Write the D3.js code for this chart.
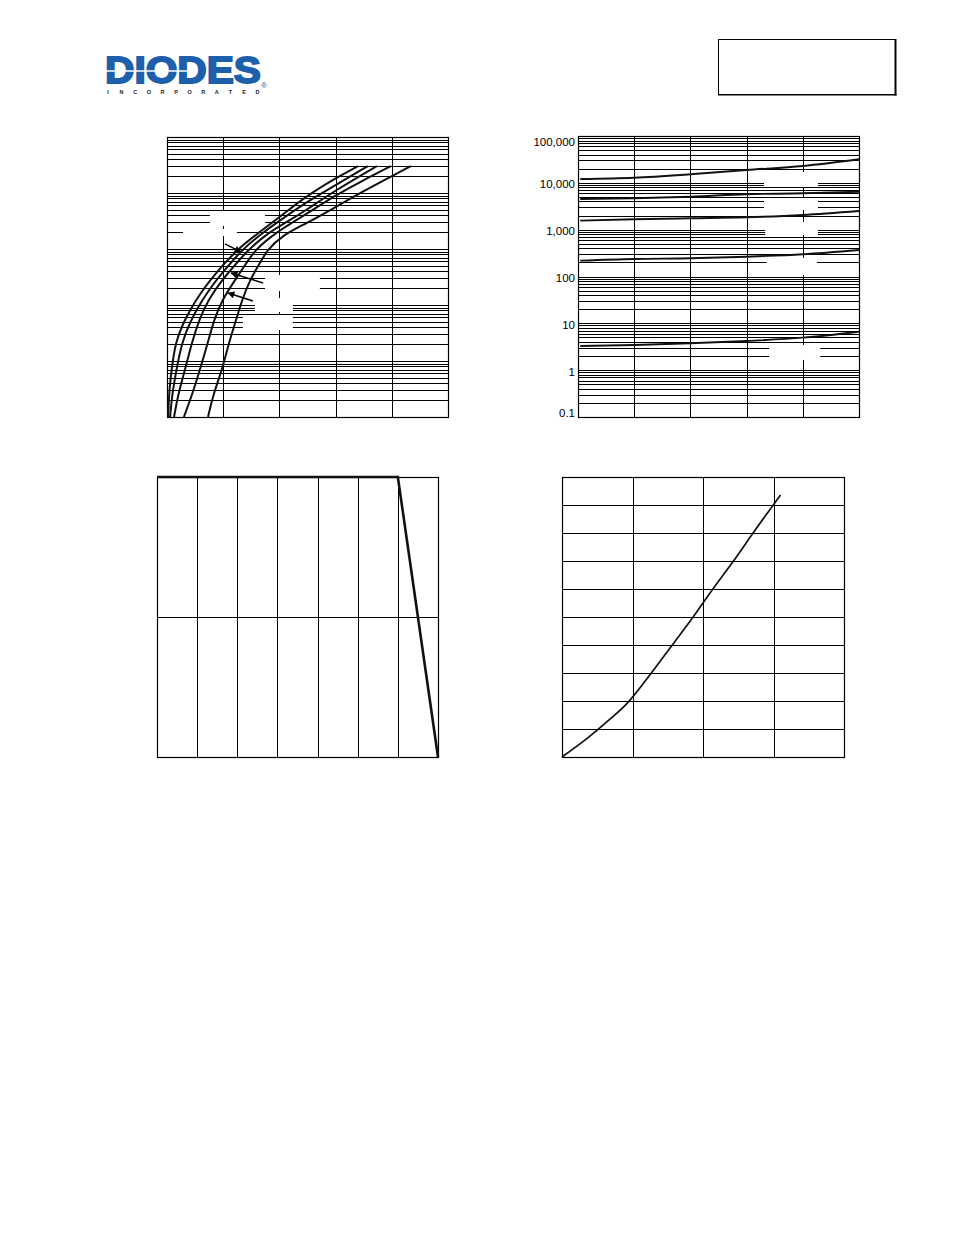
<!DOCTYPE html>
<html><head><meta charset="utf-8">
<script src="https://cdn.jsdelivr.net/npm/d3@7"></script>
<style>html,body{margin:0;padding:0;background:#fff;} svg{display:block;}</style>
</head><body>
<svg id="page" width="954" height="1235"></svg>
<script>
// ---------- DATA ----------
// Chart 1: forward characteristic curves [VF, IF]
const vfCurve1 = [[0.004,0.01],[0.007,0.0247],[0.014,0.0562],[0.021,0.104],[0.032,0.218],[0.053,0.422],[0.082,0.815],[0.117,1.57],[0.160,3.03],[0.196,4.97],[0.249,9.6],[0.324,19.3],[0.402,37.3],[0.491,84.8],[0.601,185],[0.680,303]];
const vfCurve2 = [[0.011,0.01],[0.018,0.0247],[0.032,0.0637],[0.053,0.218],[0.082,0.497],[0.121,1.13],[0.164,2.37],[0.217,4.97],[0.267,9.6],[0.338,19.3],[0.420,37.3],[0.491,66.3],[0.601,139],[0.715,303]];
const vfCurve3 = [[0.025,0.01],[0.039,0.0247],[0.064,0.069],[0.089,0.218],[0.114,0.54],[0.146,1.23],[0.196,2.79],[0.242,5.18],[0.288,9.6],[0.359,19.3],[0.438,33.0],[0.491,47.7],[0.601,113],[0.747,303]];
const vfCurve4 = [[0.060,0.01],[0.089,0.0247],[0.117,0.069],[0.146,0.218],[0.167,0.54],[0.196,1.23],[0.242,2.79],[0.278,5.18],[0.313,9.6],[0.384,19.3],[0.491,40.5],[0.601,92],[0.687,157],[0.797,303]];
const vfCurve5 = [[0.146,0.01],[0.164,0.0247],[0.196,0.069],[0.221,0.218],[0.246,0.54],[0.267,1.23],[0.295,2.79],[0.327,5.18],[0.356,9.6],[0.413,17.8],[0.491,27.9],[0.601,56.2],[0.687,100],[0.794,193],[0.868,303]];
const vfXTicks = [0.2,0.4,0.6,0.8];
// arrows (from, to) in data units
const vfArrows = [[[0.206,12.3],[0.263,8.84]],[[0.342,2.47],[0.228,3.73]],[[0.306,1.18],[0.217,1.64]]];
// erased label areas [x0,x1,yHigh,yLow]
const vfMasks = [[0.153,0.349,47.7,25.8],[0.057,0.249,22.8,17.1],[0.349,0.544,3.43,1.78],[0.313,0.448,1.33,0.75],[0.270,0.448,0.662,0.358]];

// Chart 2: reverse current curves
const irX = [0.04,1,2,3,4,5];
const irCurveA = [12080,12880,15240,18800,22900,31840];
const irCurveB = [4520,4680,5060,5700,5980,6470];
const irCurveC = [1556,1667,1750,1838,2057,2506];
const irCurveD = [218,237,245,265,298,368];
const irCurveE = [3.28,3.45,3.75,4.20,4.94,6.63];
const irTickValues = [0.1,1,10,100,1000,10000,100000];
const irTickLabels = ["0.1","1","10","100","1,000","10,000","100,000"];
const irXTicks = [1,2,3,4];
const irMasks = [[3.31,4.27,17060,8150],[3.31,4.27,4750,2630],[3.33,4.27,1459,769],[3.36,4.25,248,108],[3.40,4.31,3.45,1.65]];

// Chart 3: derating
const deratingX = [0,150,175];
const deratingY = [1,1,0];
const deratingXTicks = [25,50,75,100,125,150];
const deratingYTicks = [0.5];

// Chart 4: rising curve
const riseX = [0,0.37,0.68,0.91,1.27,1.57,1.86,2.12,2.45,2.73,3.02,3.10];
const riseY = [0,0.69,1.35,1.88,3.01,4.02,5.0,5.93,7.06,8.07,9.08,9.36];
const riseXTicks = [1,2,3];
const riseYTicks = [1,2,3,4,5,6,7,8,9];

// ---------- DRAW ----------
const svg = d3.select("#page");
const BLUE = "#1d5fab";
const FONT = "'Liberation Sans', Arial, Helvetica, sans-serif";

// Logo
const logo = svg.append("g");
logo.append("text").attr("x",105).attr("y",82.5).text("DIODES")
  .attr("font-family",FONT).attr("font-weight","bold").attr("font-size",36)
  .attr("fill",BLUE).attr("stroke",BLUE).attr("stroke-width",1.8)
  .attr("textLength",156).attr("lengthAdjust","spacingAndGlyphs");
logo.append("line").attr("x1",103).attr("x2",193).attr("y1",71).attr("y2",71)
  .attr("stroke","#fff").attr("stroke-width",1.6);
logo.append("path").attr("d","M190,68 L197,71 L190,74 Z").attr("fill","#fff");
logo.append("text").attr("x",264).attr("y",88).text("®")
  .attr("font-family",FONT).attr("font-size",8).attr("fill",BLUE).attr("text-anchor","middle");
"INCORPORATED".split("").forEach((ch,i)=>{
  logo.append("text").attr("x",108+i*13.6).attr("y",94).text(ch)
    .attr("font-family",FONT).attr("font-weight","bold").attr("font-size",5.5)
    .attr("fill","#222").attr("text-anchor","middle");
});

// Top-right box
svg.append("rect").attr("x",718.5).attr("y",39.5).attr("width",177).attr("height",55)
  .attr("fill","none").attr("stroke","#000").attr("stroke-width",1);
svg.append("line").attr("x1",895.5).attr("x2",895.5).attr("y1",39).attr("y2",95.5).attr("stroke","#000").attr("stroke-width",2);
svg.append("line").attr("x1",718).attr("x2",896.5).attr("y1",94.8).attr("y2",94.8).attr("stroke","#000").attr("stroke-width",1.5);

function styleAxis(sel){
  sel.select(".domain").remove();
  sel.selectAll("line").attr("stroke","#000").attr("stroke-width",1).attr("shape-rendering","crispEdges");
}
function logMinors(lo, hi){
  const out=[];
  for(let k=Math.round(Math.log10(lo)); k<Math.round(Math.log10(hi)); k++){
    for(let m=1;m<=9;m++){ out.push(m*Math.pow(10,k)); }
  }
  return out.filter(v=>v>lo*1.0001 && v<hi*0.9999);
}
function drawGrid(g,x,y,xTicks,yTicks){
  const [X0,X1]=x.range(), [Y0,Y1]=y.range();
  g.append("g").attr("transform",`translate(0,${Y0})`)
    .call(d3.axisBottom(x).tickValues(xTicks).tickSize(-(Y0-Y1)).tickFormat(""))
    .call(styleAxis);
  g.append("g").attr("transform",`translate(${X0},0)`)
    .call(d3.axisLeft(y).tickValues(yTicks).tickSize(-(X1-X0)).tickFormat(""))
    .call(styleAxis);
}
function drawMasks(g,x,y,masks){
  g.selectAll("rect.mask").data(masks).join("rect").attr("class","mask")
    .attr("x",d=>x(d[0])).attr("width",d=>x(d[1])-x(d[0]))
    .attr("y",d=>y(d[2])).attr("height",d=>y(d[3])-y(d[2]))
    .attr("fill","#fff");
}
function drawFrame(g,x,y){
  const [X0,X1]=x.range(), [Y0,Y1]=y.range();
  g.append("rect").attr("x",X0+0.5).attr("y",Y1+0.5).attr("width",X1-X0).attr("height",Y0-Y1)
    .attr("fill","none").attr("stroke","#000").attr("stroke-width",1.2);
}

// Chart 1
{
  const g = svg.append("g");
  const x = d3.scaleLinear().domain([0,1]).range([167,448]);
  const y = d3.scaleLog().domain([0.01,1000]).range([417,137]);
  drawGrid(g,x,y,vfXTicks,logMinors(0.01,1000));
  drawMasks(g,x,y,vfMasks);
  drawFrame(g,x,y);
  const line = d3.line().x(d=>x(d[0])).y(d=>y(d[1])).curve(d3.curveBasis);
  g.selectAll("path.curve").data([vfCurve1,vfCurve2,vfCurve3,vfCurve4,vfCurve5]).join("path")
    .attr("class","curve").attr("d",line).attr("fill","none").attr("stroke","#111").attr("stroke-width",2);
  svg.append("defs").append("marker").attr("id","ah").attr("viewBox","0 0 10 10")
    .attr("refX",9).attr("refY",5).attr("markerWidth",8).attr("markerHeight",7)
    .attr("markerUnits","userSpaceOnUse").attr("orient","auto")
    .append("path").attr("d","M0,0 L10,5 L0,10 Z").attr("fill","#000");
  g.selectAll("line.arrow").data(vfArrows).join("line").attr("class","arrow")
    .attr("x1",d=>x(d[0][0])).attr("y1",d=>y(d[0][1]))
    .attr("x2",d=>x(d[1][0])).attr("y2",d=>y(d[1][1]))
    .attr("stroke","#000").attr("stroke-width",1.4).attr("marker-end","url(#ah)");
}

// Chart 2
{
  const g = svg.append("g");
  const x = d3.scaleLinear().domain([0,5]).range([578,859]);
  const y = d3.scaleLog().domain([0.1,100000]).range([417,136]);
  drawGrid(g,x,y,irXTicks,logMinors(0.1,100000));
  drawMasks(g,x,y,irMasks);
  drawFrame(g,x,y);
  const line = d3.line().x(d=>x(d[0])).y(d=>y(d[1])).curve(d3.curveMonotoneX);
  const series = [irCurveA,irCurveB,irCurveC,irCurveD,irCurveE].map(s=>s.map((v,i)=>[irX[i],v]));
  g.selectAll("path.curve").data(series).join("path").attr("class","curve")
    .attr("d",line).attr("fill","none").attr("stroke","#111").attr("stroke-width",1.9);
  const ax = g.append("g").attr("transform","translate(578,0)")
    .call(d3.axisLeft(y).tickValues(irTickValues).tickSize(0).tickPadding(3)
      .tickFormat((d,i)=>irTickLabels[i]));
  ax.select(".domain").remove();
  ax.selectAll("text").attr("font-family",FONT).attr("font-size",11.5).attr("fill","#000")
    .attr("dy",(d,i)=> i===irTickValues.length-1 ? "0.85em" : (i===0 ? "-0.05em" : "0.42em"));
}

// Chart 3
{
  const g = svg.append("g");
  const x = d3.scaleLinear().domain([0,175]).range([157,438]);
  const y = d3.scaleLinear().domain([0,1]).range([757,477]);
  drawGrid(g,x,y,deratingXTicks,deratingYTicks);
  drawFrame(g,x,y);
  const line = d3.line().x(d=>x(d[0])).y(d=>y(d[1]));
  g.append("path").datum(deratingX.map((v,i)=>[v,deratingY[i]]))
    .attr("d",line).attr("fill","none").attr("stroke","#111").attr("stroke-width",2.6);
}

// Chart 4
{
  const g = svg.append("g");
  const x = d3.scaleLinear().domain([0,4]).range([562,844]);
  const y = d3.scaleLinear().domain([0,10]).range([757,477]);
  drawGrid(g,x,y,riseXTicks,riseYTicks);
  drawFrame(g,x,y);
  const line = d3.line().x(d=>x(d[0])).y(d=>y(d[1])).curve(d3.curveMonotoneX);
  g.append("path").datum(riseX.map((v,i)=>[v,riseY[i]]))
    .attr("d",line).attr("fill","none").attr("stroke","#111").attr("stroke-width",1.7);
}
</script>
</body></html>
